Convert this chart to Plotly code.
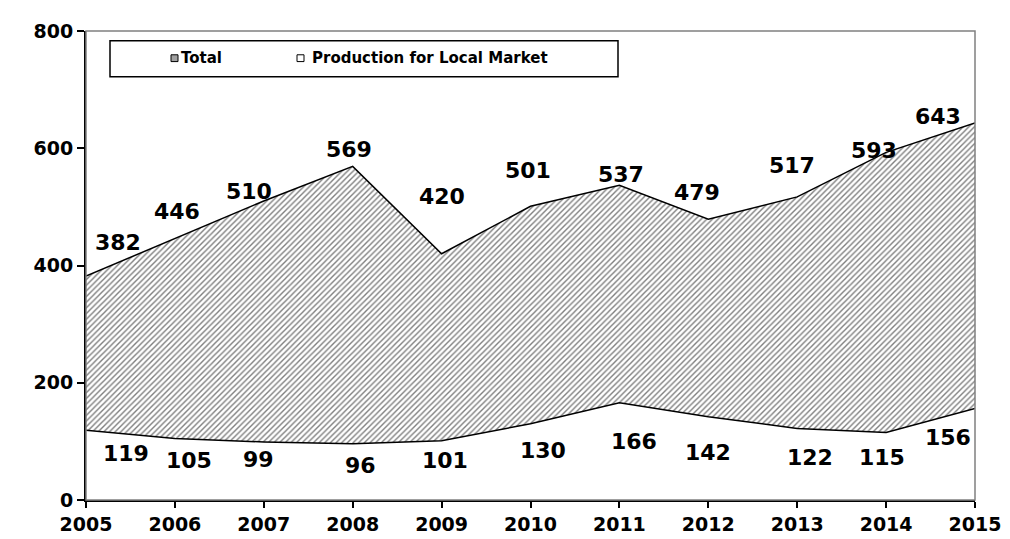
import plotly.graph_objects as go

years = [2005, 2006, 2007, 2008, 2009, 2010, 2011, 2012, 2013, 2014, 2015]
total = [382, 446, 510, 569, 420, 501, 537, 479, 517, 593, 643]
local = [119, 105, 99, 96, 101, 130, 166, 142, 122, 115, 156]
y_ticks = [0, 200, 400, 600, 800]
series_names = ["Total", "Production for Local Market"]

# label offsets in pixels (dx, dy) relative to each data point
total_dx = [32, 2, -15, -4, 0, -3, 2, -11, -5, -12, -37]
total_dy = [34, 27, 10, 17, 57, 36, 11, 27, 31, 2, 7]
local_dx = [40, 14, -5, 8, 3, 12, 15, 0, 13, -4, -27]
local_dy = [-23, -22, -18, -22, -20, -27, -39, -36, -29, -25, -29]

FONT = "DejaVu Sans"
W, H = 1010, 539
ML, MR, MT, MB = 78, 43, 15, 41
PW, PH = W - ML - MR, H - MT - MB


def px(x):
    return (x - ML) / PW


def py(y):
    return (H - MB - y) / PH


fig = go.Figure()
fig.add_trace(go.Scatter(
    x=years, y=total, name=series_names[0], mode="lines",
    line=dict(color="black", width=1.5),
    fill="tozeroy", fillcolor="white",
    fillpattern=dict(shape="/", fgcolor="black", bgcolor="white", size=4, solidity=0.35),
    showlegend=False,
))
fig.add_trace(go.Scatter(
    x=years, y=local, name=series_names[1], mode="lines",
    line=dict(color="black", width=1.5),
    fill="tozeroy", fillcolor="white",
    showlegend=False,
))

annotations = []
for i, yr in enumerate(years):
    annotations.append(dict(x=yr, y=total[i], xref="x", yref="y", text=str(total[i]),
                            showarrow=False, xshift=total_dx[i], yshift=total_dy[i],
                            font=dict(family=FONT, size=22, color="black", weight="bold")))
    annotations.append(dict(x=yr, y=local[i], xref="x", yref="y", text=str(local[i]),
                            showarrow=False, xshift=local_dx[i], yshift=local_dy[i],
                            font=dict(family=FONT, size=22, color="black", weight="bold")))

# manual legend
annotations.append(dict(x=px(171), y=py(43), xref="paper", yref="paper", text=series_names[0],
                        showarrow=False, xanchor="left", yanchor="middle",
                        font=dict(family=FONT, size=15, color="black", weight="bold")))
annotations.append(dict(x=px(302), y=py(43), xref="paper", yref="paper", text=series_names[1],
                        showarrow=False, xanchor="left", yanchor="middle",
                        font=dict(family=FONT, size=15, color="black", weight="bold")))

shapes = [
    # plot border (top/right gray)
    dict(type="rect", xref="paper", yref="paper", x0=0, x1=1, y0=0, y1=1,
         line=dict(color="#808080", width=1.5), fillcolor="rgba(0,0,0,0)", layer="above"),
    # legend box
    dict(type="rect", xref="paper", yref="paper", x0=px(102), x1=px(610), y0=py(62), y1=py(25),
         line=dict(color="black", width=1.5), fillcolor="white", layer="above"),
    dict(type="rect", xref="paper", yref="paper", x0=px(163), x1=px(170), y0=py(46.5), y1=py(39.5),
         line=dict(color="black", width=1), fillcolor="#a0a0a0", layer="above"),
    dict(type="rect", xref="paper", yref="paper", x0=px(289), x1=px(296), y0=py(46.5), y1=py(39.5),
         line=dict(color="black", width=1), fillcolor="white", layer="above"),
]

fig.update_layout(
    width=W, height=H, autosize=False,
    margin=dict(l=ML, r=MR, t=MT, b=MB),
    paper_bgcolor="white", plot_bgcolor="white",
    annotations=annotations, shapes=shapes,
    font=dict(family=FONT, color="black"),
)
fig.update_xaxes(
    range=[2005, 2015], tickvals=years, ticktext=[str(y) for y in years],
    showgrid=False, zeroline=False, showline=True, linecolor="black", linewidth=2,
    ticks="outside", ticklen=6, tickwidth=1.5, tickcolor="black",
    tickfont=dict(family=FONT, size=19, color="black", weight="bold"),
)
fig.update_yaxes(
    range=[0, 800], tickvals=y_ticks, ticktext=[str(v) for v in y_ticks],
    showgrid=False, zeroline=False, showline=True, linecolor="black", linewidth=2,
    ticks="outside", ticklen=7, tickwidth=1.5, tickcolor="black",
    tickfont=dict(family=FONT, size=19, color="black", weight="bold"),
)

fig.write_html("out.html")
